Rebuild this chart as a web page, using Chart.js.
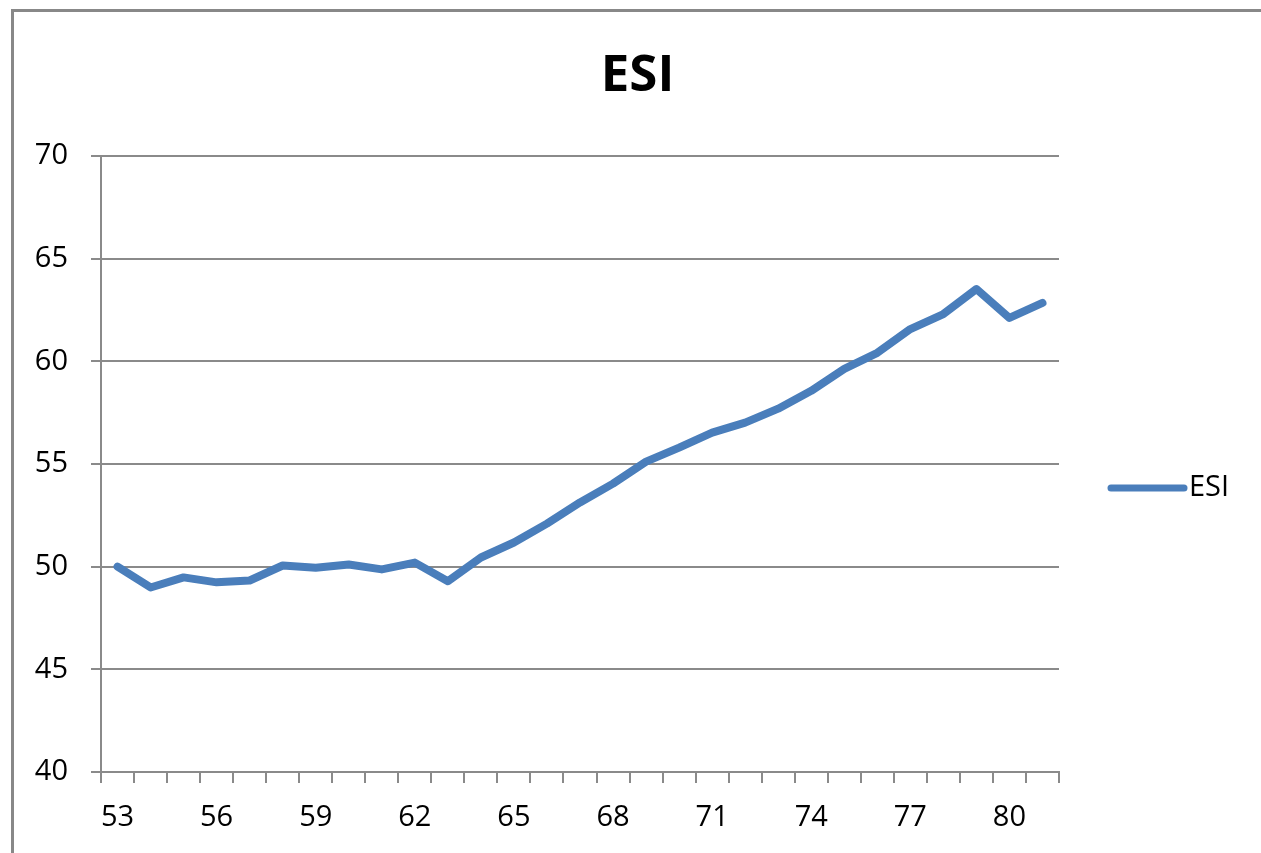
<!DOCTYPE html>
<html>
<head>
<meta charset="utf-8">
<script src="https://cdn.jsdelivr.net/npm/chart.js@4/dist/chart.umd.min.js"></script>
<style>
  html, body { margin: 0; padding: 0; background: #fff; overflow: hidden; }
  #frame {
    position: absolute; left: 11px; top: 9px; width: 1400px; height: 1000px;
    border-left: 3px solid #888; border-top: 3px solid #888;
  }
  #c { position: absolute; left: 0; top: 0; }
</style>
</head>
<body>
<div id="frame"></div>
<canvas id="c" width="1261" height="853"></canvas>
<script>
// Categories (x axis)
const categories = ['53', '54', '55', '56', '57', '58', '59', '60', '61', '62',
  '63', '64', '65', '66', '67', '68', '69', '70', '71', '72',
  '73', '74', '75', '76', '77', '78', '79', '80', '81'];

// ESI series values
const esiValues = [50.0, 48.99, 49.48, 49.24, 49.33, 50.06, 49.95, 50.11, 49.87, 50.2,
  49.29, 50.45, 51.18, 52.1, 53.13, 54.05, 55.12, 55.8, 56.53, 57.02,
  57.7, 58.57, 59.64, 60.42, 61.58, 62.31, 63.53, 62.12, 62.85];

// Y axis range
const yMin = 40;
const yMax = 70;
const yStep = 5;

const FONT = 'Open Sans, sans-serif';
const GRID = '#8a8a8a';
const BLUE = '#4a7ebb';

// legend drawn to the right of the plot, Excel style
const sideLegend = {
  id: 'sideLegend',
  afterDraw(chart) {
    const ctx = chart.ctx;
    const ds = chart.data.datasets[0];
    const area = chart.chartArea;
    const y = 488;
    const x0 = area.right + 52;
    ctx.save();
    ctx.strokeStyle = ds.borderColor;
    ctx.lineWidth = 7;
    ctx.lineCap = 'round';
    ctx.beginPath();
    ctx.moveTo(x0, y);
    ctx.lineTo(x0 + 73, y);
    ctx.stroke();
    ctx.fillStyle = '#000';
    ctx.font = '29px ' + FONT;
    ctx.textBaseline = 'middle';
    ctx.fillText(ds.label, x0 + 78, y);
    ctx.restore();
  }
};

new Chart(document.getElementById('c'), {
  type: 'line',
  data: {
    labels: categories,
    datasets: [{
      label: 'ESI',
      data: esiValues,
      borderColor: BLUE,
      borderWidth: 8,
      borderJoinStyle: 'round',
      borderCapStyle: 'round',
      pointRadius: 0,
      tension: 0,
      fill: false,
    }],
  },
  options: {
    responsive: false,
    animation: false,
    layout: { padding: { left: 14, top: 0, right: 0, bottom: 0 } },
    plugins: {
      legend: { display: false },
      tooltip: { enabled: false },
      title: {
        display: true,
        text: 'ESI',
        color: '#000',
        font: { size: 51, weight: 'bold', family: FONT },
        padding: { top: 46, bottom: 49 },
      },
    },
    scales: {
      x: {
        offset: true,
        grid: {
          offset: true,
          drawOnChartArea: false,
          drawTicks: true,
          tickLength: 11,
          color: GRID,
          lineWidth: 2,
        },
        border: { display: true, color: GRID, width: 2 },
        ticks: {
          autoSkip: false,
          maxRotation: 0,
          padding: 17,
          color: '#000',
          font: { size: 29, family: FONT },
          callback: (v, i) => (i % 3 === 0 ? categories[i] : ''),
        },
        afterFit(scale) { scale.height = 81; },
      },
      y: {
        min: yMin,
        max: yMax,
        grid: {
          color: GRID,
          lineWidth: 2,
          drawTicks: true,
          tickLength: 10,
        },
        border: { display: true, color: GRID, width: 2 },
        ticks: {
          stepSize: yStep,
          padding: 23,
          color: '#000',
          font: { size: 29, family: FONT },
        },
        afterFit(scale) { scale.width = 87; },
      },
      // empty right-hand axis that reserves room for the legend
      legendRoom: {
        type: 'linear',
        position: 'right',
        display: true,
        grid: { display: false, drawTicks: false },
        border: { display: false },
        ticks: { display: false },
        afterFit(scale) { scale.width = 202; },
      },
    },
  },
  plugins: [sideLegend],
});
</script>
</body>
</html>
